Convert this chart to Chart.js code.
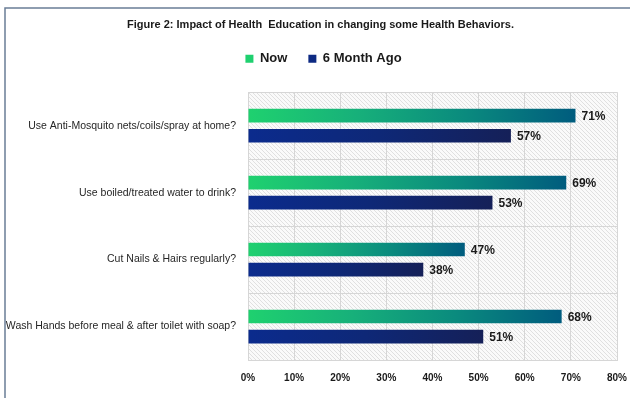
<!DOCTYPE html>
<html>
<head>
<meta charset="utf-8">
<script src="https://cdn.jsdelivr.net/npm/chart.js@4"></script>
<style>
    body { margin: 0; background: #ffffff; }
    #wrap { width: 630px; height: 398px; }
</style>
</head>
<body>
<div id="wrap"><canvas id="bar-chart-health" width="630" height="398"></canvas></div>
<script>
const questions = [
    'Use Anti-Mosquito nets/coils/spray at home?',
    'Use boiled/treated water to drink?',
    'Cut Nails & Hairs regularly?',
    'Wash Hands before meal & after toilet with soap?'
];
const nowValues = [71, 69, 47, 68];
const sixMonthValues = [57, 53, 38, 51];
const tickMax = 80;
const tickStep = 10;

const sans = "'Liberation Sans Narrow', 'Arial Narrow', 'Liberation Sans', Arial, sans-serif";

// gradient along each bar, from its base to its end
function barGradient(context, stops) {
    const chart = context.chart;
    if (!chart.chartArea || context.raw === undefined) return stops[0];
    const x0 = chart.scales.x.getPixelForValue(0);
    const x1 = chart.scales.x.getPixelForValue(context.raw);
    const g = chart.ctx.createLinearGradient(x0, 0, Math.max(x1, x0 + 1), 0);
    stops.forEach((c, i) => g.addColorStop(i / (stops.length - 1), c));
    return g;
}

// hatched plot background
function hatchPattern() {
    const c = document.createElement('canvas');
    c.width = 4; c.height = 4;
    const p = c.getContext('2d');
    p.fillStyle = '#fafafa';
    p.fillRect(0, 0, 4, 4);
    p.strokeStyle = '#e0e0e0';
    p.lineWidth = 1;
    p.beginPath();
    p.moveTo(0, 0); p.lineTo(4, 4);
    p.moveTo(-1, 3); p.lineTo(1, 5);
    p.moveTo(3, -1); p.lineTo(5, 1);
    p.stroke();
    return p.createPattern(c, 'repeat');
}

const plotBackground = {
    id: 'plotBackground',
    afterLayout(chart) {
        // title and legend sit a little right of centre in the original
        chart.titleBlock.left += 12;
        chart.titleBlock.right += 12;
        chart.legend.left += 15;
        chart.legend.right += 15;
    },
    beforeDraw(chart) {
        const { ctx, chartArea: a } = chart;
        ctx.save();
        ctx.fillStyle = hatchPattern();
        ctx.fillRect(a.left, a.top, a.right - a.left, a.bottom - a.top);
        ctx.restore();
    }
};

const valueLabels = {
    id: 'valueLabels',
    afterDatasetsDraw(chart) {
        const ctx = chart.ctx;
        ctx.save();
        ctx.font = 'bold 12px ' + sans;
        ctx.fillStyle = '#1a1a1a';
        ctx.textBaseline = 'middle';
        chart.data.datasets.forEach((ds, i) => {
            chart.getDatasetMeta(i).data.forEach((bar, j) => {
                ctx.fillText(ds.data[j] + '%', bar.x + 6, bar.y + 1);
            });
        });
        ctx.restore();
    }
};

const frame = {
    id: 'frame',
    afterDraw(chart) {
        const ctx = chart.ctx;
        ctx.save();
        ctx.strokeStyle = '#6a7d96';
        ctx.lineWidth = 1.5;
        ctx.beginPath();
        ctx.moveTo(5, 398);
        ctx.lineTo(5, 8);
        ctx.lineTo(630, 8);
        ctx.stroke();
        ctx.restore();
    }
};

const ctx = document.getElementById('bar-chart-health').getContext('2d');
new Chart(ctx, {
    type: 'bar',
    data: {
        labels: questions,
        datasets: [{
            label: 'Now',
            data: nowValues,
            backgroundColor: c => barGradient(c, ['#1fd16f', '#17b07a', '#0a8a7e', '#005c7e']),
            categoryPercentage: 0.6,
            barPercentage: 0.68
        }, {
            label: '6 Month Ago',
            data: sixMonthValues,
            backgroundColor: c => barGradient(c, ['#0b2b8d', '#0e2877', '#152058']),
            categoryPercentage: 0.6,
            barPercentage: 0.68
        }]
    },
    options: {
        indexAxis: 'y',
        responsive: false,
        animation: false,
        layout: { padding: { top: 0, right: 13, bottom: 0, left: 0 } },
        plugins: {
            title: {
                display: true,
                text: 'Figure 2: Impact of Health  Education in changing some Health Behaviors.',
                color: '#1a1a1a',
                font: { family: sans, size: 11, weight: 'bold' },
                padding: { top: 18, bottom: 0 }
            },
            legend: {
                display: true,
                labels: {
                    color: '#1a1a1a',
                    font: { family: sans, size: 13, weight: 'bold' },
                    boxWidth: 8,
                    boxHeight: 8,
                    padding: 21
                }
            },
            tooltip: { enabled: false }
        },
        scales: {
            x: {
                min: 0,
                max: tickMax,
                ticks: {
                    stepSize: tickStep,
                    padding: 12,
                    color: '#1a1a1a',
                    font: { family: sans, size: 10, weight: 'bold' },
                    callback: v => v + '%'
                },
                grid: { color: '#d6d6d6', drawTicks: false },
                border: { color: '#d6d6d6' },
                afterFit: scale => {
                    scale.height = 38;
                    scale.paddingRight = 0;
                    scale.paddingLeft = 0;
                }
            },
            // empty spacer between legend and plot
            top: {
                axis: 'x',
                position: 'top',
                ticks: { display: false },
                grid: { display: false },
                border: { display: false },
                afterFit: scale => { scale.height = 17; }
            },
            y: {
                ticks: {
                    padding: 12,
                    color: '#262626',
                    font: { family: sans, size: 10.5 }
                },
                grid: { color: '#d6d6d6', drawTicks: false, offset: true },
                border: { color: '#d6d6d6' },
                afterFit: scale => { scale.width = 248; }
            }
        }
    },
    plugins: [plotBackground, valueLabels, frame]
});
</script>
</body>
</html>
